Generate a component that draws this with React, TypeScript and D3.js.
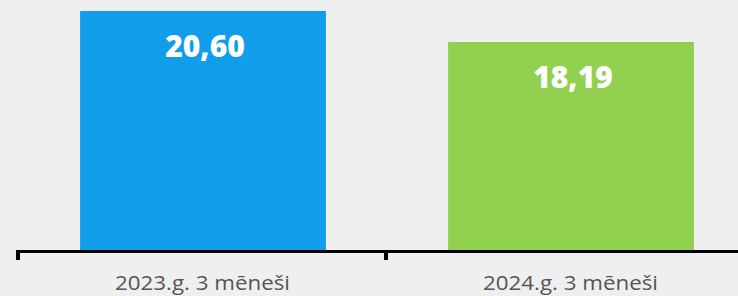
import { useEffect, useRef } from 'react';
import * as d3 from 'd3';

// chart data
const categories: string[] = ['2023.g. 3 mēneši', '2024.g. 3 mēneši'];
const values: number[] = [20.6, 18.19];
const valueLabels: string[] = ['20,60', '18,19'];
const barColors: string[] = ['#119dea', '#92d050'];

const App: React.FC = () => {
  const svgRef = useRef<SVGSVGElement | null>(null);

  useEffect(() => {
    document.body.style.margin = '0';
    if (!svgRef.current) return;

    const width = 738;
    const height = 296;
    const axisY = 250;
    const barTop = 11;

    const x = d3.scaleBand().domain(categories).range([18, 754]).padding(0);

    // value axis does not start at zero in the original
    const y = d3.scaleLinear().domain([2.02, 20.6]).range([axisY, barTop]);

    const barW = x.bandwidth() * 0.668;
    const offset = (x.bandwidth() - barW) / 2 + 1;

    const svg = d3.select(svgRef.current);
    svg.selectAll('*').remove();

    svg.append('rect').attr('width', width).attr('height', height).attr('fill', '#efefef');

    svg
      .selectAll('.bar')
      .data(values)
      .enter()
      .append('rect')
      .attr('class', 'bar')
      .attr('x', (_d, i) => (x(categories[i]) ?? 0) + offset)
      .attr('y', (d) => y(d))
      .attr('width', barW)
      .attr('height', (d) => axisY - y(d))
      .attr('fill', (_d, i) => barColors[i]);

    svg
      .selectAll('.val')
      .data(values)
      .enter()
      .append('text')
      .attr('class', 'val')
      .attr('x', (_d, i) => (x(categories[i]) ?? 0) + x.bandwidth() / 2 + 3)
      .attr('y', (d) => y(d) + 46)
      .attr('text-anchor', 'middle')
      .attr('font-family', '"Open Sans", sans-serif')
      .attr('font-weight', 800)
      .attr('font-size', 30)
      .attr('fill', '#ffffff')
      .text((_d, i) => valueLabels[i]);

    // axis line + ticks at band edges
    svg
      .append('line')
      .attr('x1', 16)
      .attr('x2', width)
      .attr('y1', axisY + 1.5)
      .attr('y2', axisY + 1.5)
      .attr('stroke', '#000')
      .attr('stroke-width', 3);

    const edges = categories.map((c) => x(c) ?? 0).concat([x.range()[1]]);
    svg
      .selectAll('.tick')
      .data(edges)
      .enter()
      .append('line')
      .attr('class', 'tick')
      .attr('x1', (d) => d)
      .attr('x2', (d) => d)
      .attr('y1', axisY)
      .attr('y2', 260)
      .attr('stroke', '#000')
      .attr('stroke-width', 4);

    svg
      .selectAll('.cat')
      .data(categories)
      .enter()
      .append('text')
      .attr('class', 'cat')
      .attr('x', (d) => (x(d) ?? 0) + x.bandwidth() / 2 + 0.5)
      .attr('y', 290)
      .attr('text-anchor', 'middle')
      .attr('font-family', '"Open Sans", sans-serif')
      .attr('font-size', 20)
      .attr('textLength', 175)
      .attr('lengthAdjust', 'spacingAndGlyphs')
      .attr('fill', '#555555')
      .text((d) => d);
  }, []);

  return <svg ref={svgRef} width={738} height={296} style={{ display: 'block' }}></svg>;
};

export default App;
